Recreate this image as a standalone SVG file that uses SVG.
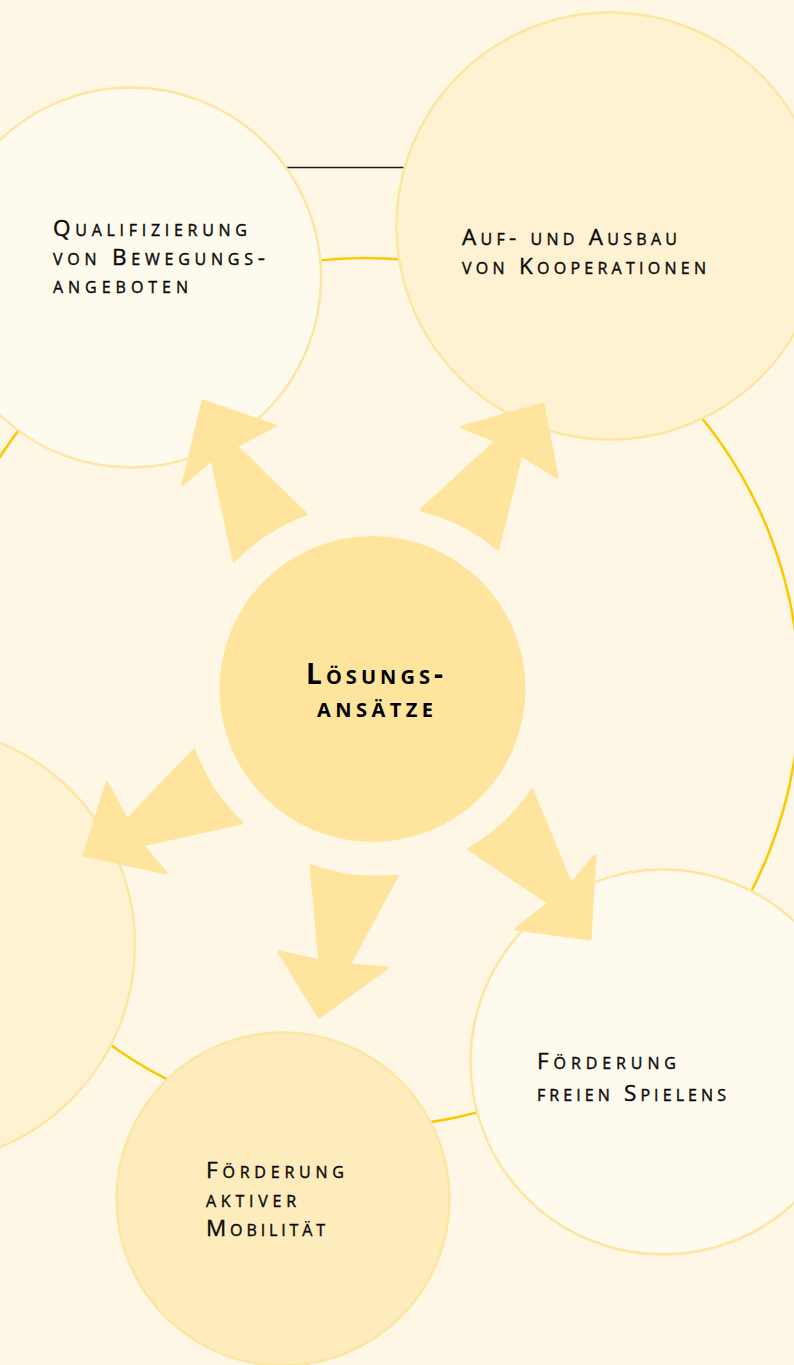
<svg xmlns="http://www.w3.org/2000/svg" width="794" height="1365" viewBox="0 0 794 1365">
  <style>
    .bg { fill: #fef7e5; }
    .ring { fill: none; stroke: #fcc800; stroke-width: 2.5; }
    .rule { stroke: #1e1e1e; stroke-width: 1.5; }
    .node { stroke: #fde5a2; stroke-width: 2.5; }
    .pale { fill: #fffaee; }
    .warm { fill: #fff2d3; }
    .deep { fill: #feecbd; }
    .core { fill: #fee49c; }
    .arrow { fill: #fee49c; stroke: #fee49c; stroke-width: 3; stroke-linejoin: round; }
    .lbl { font-family: "Open Sans", "Liberation Sans", sans-serif; font-size: 22.5px; font-variant: small-caps; fill: #0a0a0a; stroke: #0a0a0a; stroke-width: 0.4; }
    .bold { font-family: "Open Sans", "Liberation Sans", sans-serif; font-size: 28px; font-weight: bold; font-variant: small-caps; fill: #000; }
  </style>

  <g id="background">
    <rect class="bg" x="0" y="0" width="794" height="1365"/>
    <line class="rule" x1="280" y1="167.5" x2="410" y2="167.5"/>
    <circle class="ring" cx="365" cy="692.5" r="434.5"/>
  </g>

  <g id="node-left">
    <circle class="node warm" cx="-84" cy="945" r="219"/>
  </g>

  <g id="node-qualifizierung">
    <circle class="node pale" cx="131" cy="277.5" r="190"/>
    <text class="lbl" x="53" y="236" textLength="194" lengthAdjust="spacing">Qualifizierung</text>
    <text class="lbl" x="53" y="265" textLength="212" lengthAdjust="spacing">von Bewegungs-</text>
    <text class="lbl" x="53" y="293" textLength="135" lengthAdjust="spacing">angeboten</text>
  </g>

  <g id="node-kooperationen">
    <circle class="node warm" cx="610" cy="226" r="213.5"/>
    <text class="lbl" x="462" y="245" textLength="215" lengthAdjust="spacing">Auf- und Ausbau</text>
    <text class="lbl" x="462" y="274" textLength="244" lengthAdjust="spacing">von Kooperationen</text>
  </g>

  <g id="node-spielen">
    <circle class="node pale" cx="663" cy="1062" r="192.5"/>
    <text class="lbl" x="537" y="1069" textLength="139" lengthAdjust="spacing">Förderung</text>
    <text class="lbl" x="537" y="1101" textLength="189" lengthAdjust="spacing">freien Spielens</text>
  </g>

  <g id="node-mobilitaet">
    <circle class="node deep" cx="283" cy="1199" r="166.5"/>
    <text class="lbl" x="206" y="1178" textLength="138" lengthAdjust="spacing">Förderung</text>
    <text class="lbl" x="206" y="1207" textLength="90" lengthAdjust="spacing">aktiver</text>
    <text class="lbl" x="206" y="1236" textLength="119" lengthAdjust="spacing">Mobilität</text>
  </g>

  <g id="node-loesungsansaetze">
    <circle class="core" cx="372.5" cy="689" r="153"/>
    <text class="bold" x="306" y="684" textLength="137" lengthAdjust="spacing">Lösungs-</text>
    <text class="bold" x="317" y="717" textLength="116" lengthAdjust="spacing">ansätze</text>
  </g>

  <g id="connectors">
    <path class="arrow" d="M203,401 L275,426 L236,446 L306,514 A188,188 0 0 0 234,561 L212,459 L183,484 Z"/>
    <path class="arrow" d="M543,404 L557,477 L521,455 L498,549 A188,188 0 0 0 421,510 L496,441 L462,427 Z"/>
    <path class="arrow" d="M84,855 L107,783 L127,820 L194,750 A188,188 0 0 0 242,823 L142,845 L166,873 Z"/>
    <path class="arrow" d="M319,1017 L387,968 L349,965 L397,876 A188,188 0 0 1 311,866 L320,961 L279,952 Z"/>
    <path class="arrow" d="M590,939 L595,856 L571,884 L532,790 A188,188 0 0 1 469,849 L549,903 L516,929 Z"/>
  </g>
</svg>
